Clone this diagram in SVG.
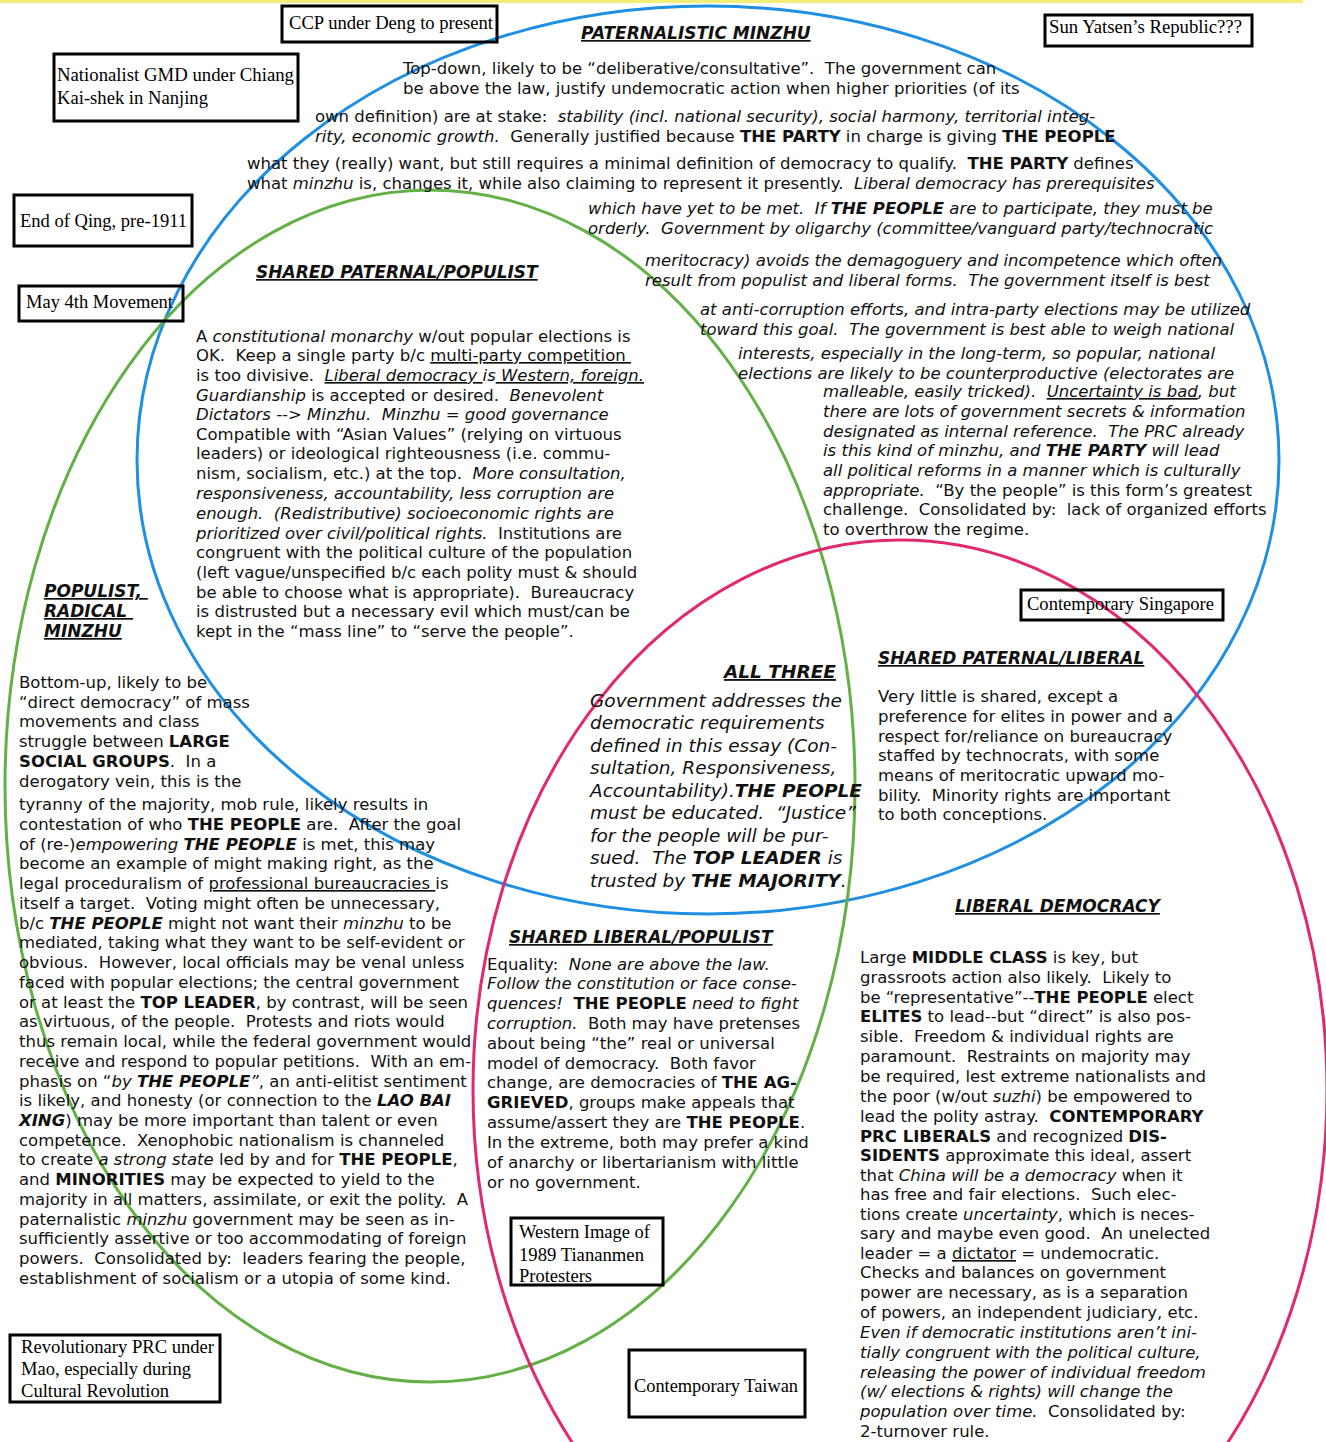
<svg xmlns="http://www.w3.org/2000/svg" width="1326" height="1442" viewBox="0 0 1326 1442">
<style>
text{font-family:"DejaVu Sans",Verdana,sans-serif;font-size:16.5px;fill:#111;white-space:pre}
.i{font-style:italic}
.b{font-weight:bold}
.u{text-decoration:underline}
.h{font-size:17px;font-weight:bold;font-style:italic;text-decoration:underline}
.a3{font-size:18.5px}
.box{fill:none;stroke:#000;stroke-width:3}
.lbl{font-family:"Liberation Serif","Times New Roman",serif;font-size:19.5px;fill:#000}
.ell{fill:none;stroke-width:3}
</style>
<rect x="0" y="0" width="1303" height="3" fill="#f2ee78"/>
<g id="circles">
<ellipse class="ell" cx="708" cy="460" rx="571" ry="454" stroke="#1e8fe3"/>
<ellipse class="ell" cx="430" cy="786" rx="425" ry="596" stroke="#62b046"/>
<ellipse class="ell" cx="900" cy="1090" rx="427" ry="550" stroke="#e0296f"/>
</g>
<g id="paternalistic">
<text class="h" x="581" y="39">PATERNALISTIC MINZHU</text>
<text x="403" y="74">Top-down, likely to be “deliberative/consultative”.  The government can</text>
<text x="403" y="94">be above the law, justify undemocratic action when higher priorities (of its</text>
<text x="315" y="122">own definition) are at stake:  <tspan class="i">stability (incl. national security), social harmony, territorial integ-</tspan></text>
<text x="315" y="142"><tspan class="i">rity, economic growth.</tspan>  Generally justified because <tspan class="b">THE PARTY</tspan> in charge is giving <tspan class="b">THE PEOPLE</tspan></text>
<text x="247" y="169">what they (really) want, but still requires a minimal definition of democracy to qualify.  <tspan class="b">THE PARTY</tspan> defines</text>
<text x="247" y="189">what <tspan class="i">minzhu</tspan> is, changes it, while also claiming to represent it presently.  <tspan class="i">Liberal democracy has prerequisites</tspan></text>
<text class="i" x="588" y="214">which have yet to be met.  If <tspan class="b">THE PEOPLE</tspan> are to participate, they must be</text>
<text class="i" x="588" y="234">orderly.  Government by oligarchy (committee/vanguard party/technocratic</text>
<text class="i" x="645" y="266">meritocracy) avoids the demagoguery and incompetence which often</text>
<text class="i" x="645" y="286">result from populist and liberal forms.  The government itself is best</text>
<text class="i" x="700" y="315">at anti-corruption efforts, and intra-party elections may be utilized</text>
<text class="i" x="700" y="335">toward this goal.  The government is best able to weigh national</text>
<text class="i" x="738" y="359">interests, especially in the long-term, so popular, national</text>
<text class="i" x="738" y="379">elections are likely to be counterproductive (electorates are</text>
<text class="i" x="823" y="397">malleable, easily tricked).  <tspan class="u">Uncertainty is bad</tspan>, but</text>
<text class="i" x="823" y="417">there are lots of government secrets &amp; information</text>
<text class="i" x="823" y="437">designated as internal reference.  The PRC already</text>
<text class="i" x="823" y="456">is this kind of minzhu, and <tspan class="b">THE PARTY</tspan> will lead</text>
<text class="i" x="823" y="476">all political reforms in a manner which is culturally</text>
<text x="823" y="496"><tspan class="i">appropriate.</tspan>  “By the people” is this form’s greatest</text>
<text x="823" y="515">challenge.  Consolidated by:  lack of organized efforts</text>
<text x="823" y="535">to overthrow the regime.</text>
</g>
<g id="shared-paternal-populist">
<text class="h" x="256" y="278">SHARED PATERNAL/POPULIST</text>
<text x="196" y="342">A <tspan class="i">constitutional monarchy</tspan> w/out popular elections is</text>
<text x="196" y="361">OK.  Keep a single party b/c <tspan class="u">multi-party competition </tspan></text>
<text x="196" y="381">is too divisive.  <tspan class="i u">Liberal democracy </tspan><tspan class="i">is</tspan><tspan class="i u"> Western, foreign.</tspan></text>
<text x="196" y="401"><tspan class="i">Guardianship</tspan> is accepted or desired.  <tspan class="i">Benevolent</tspan></text>
<text class="i" x="196" y="420">Dictators --&gt; Minzhu.  Minzhu = good governance</text>
<text x="196" y="440">Compatible with “Asian Values” (relying on virtuous</text>
<text x="196" y="459">leaders) or ideological righteousness (i.e. commu-</text>
<text x="196" y="479">nism, socialism, etc.) at the top.  <tspan class="i">More consultation,</tspan></text>
<text class="i" x="196" y="499">responsiveness, accountability, less corruption are</text>
<text class="i" x="196" y="519">enough.  (Redistributive) socioeconomic rights are</text>
<text x="196" y="539"><tspan class="i">prioritized over civil/political rights.</tspan>  Institutions are</text>
<text x="196" y="558">congruent with the political culture of the population</text>
<text x="196" y="578">(left vague/unspecified b/c each polity must &amp; should</text>
<text x="196" y="598">be able to choose what is appropriate).  Bureaucracy</text>
<text x="196" y="617">is distrusted but a necessary evil which must/can be</text>
<text x="196" y="637">kept in the “mass line” to “serve the people”.</text>
</g>
<g id="populist">
<text class="h" x="44" y="597">POPULIST, </text>
<text class="h" x="44" y="617">RADICAL </text>
<text class="h" x="44" y="637">MINZHU</text>
<text x="19" y="688">Bottom-up, likely to be</text>
<text x="19" y="708">“direct democracy” of mass</text>
<text x="19" y="727">movements and class</text>
<text x="19" y="747">struggle between <tspan class="b">LARGE</tspan></text>
<text x="19" y="767"><tspan class="b">SOCIAL GROUPS</tspan>.  In a</text>
<text x="19" y="787">derogatory vein, this is the</text>
<text x="19" y="810">tyranny of the majority, mob rule, likely results in</text>
<text x="19" y="830">contestation of who <tspan class="b">THE PEOPLE</tspan> are.  After the goal</text>
<text x="19" y="850">of (re-)<tspan class="i">empowering </tspan><tspan class="i b">THE PEOPLE</tspan> is met, this may</text>
<text x="19" y="869">become an example of might making right, as the</text>
<text x="19" y="889">legal proceduralism of <tspan class="u">professional bureaucracies </tspan>is</text>
<text x="19" y="909">itself a target.  Voting might often be unnecessary,</text>
<text x="19" y="929">b/c <tspan class="i b">THE PEOPLE</tspan> might not want their <tspan class="i">minzhu</tspan> to be</text>
<text x="19" y="948">mediated, taking what they want to be self-evident or</text>
<text x="19" y="968">obvious.  However, local officials may be venal unless</text>
<text x="19" y="988">faced with popular elections; the central government</text>
<text x="19" y="1008">or at least the <tspan class="b">TOP LEADER</tspan>, by contrast, will be seen</text>
<text x="19" y="1027">as virtuous, of the people.  Protests and riots would</text>
<text x="19" y="1047">thus remain local, while the federal government would</text>
<text x="19" y="1067">receive and respond to popular petitions.  With an em-</text>
<text x="19" y="1087">phasis on “<tspan class="i">by </tspan><tspan class="i b">THE PEOPLE</tspan><tspan class="i">”</tspan>, an anti-elitist sentiment</text>
<text x="19" y="1106">is likely, and honesty (or connection to the <tspan class="i b">LAO BAI</tspan></text>
<text x="19" y="1126"><tspan class="i b">XING</tspan>) may be more important than talent or even</text>
<text x="19" y="1146">competence.  Xenophobic nationalism is channeled</text>
<text x="19" y="1165">to create <tspan class="i">a strong state</tspan> led by and for <tspan class="b">THE PEOPLE</tspan>,</text>
<text x="19" y="1185">and <tspan class="b">MINORITIES</tspan> may be expected to yield to the</text>
<text x="19" y="1205">majority in all matters, assimilate, or exit the polity.  A</text>
<text x="19" y="1225">paternalistic <tspan class="i">minzhu</tspan> government may be seen as in-</text>
<text x="19" y="1244">sufficiently assertive or too accommodating of foreign</text>
<text x="19" y="1264">powers.  Consolidated by:  leaders fearing the people,</text>
<text x="19" y="1284">establishment of socialism or a utopia of some kind.</text>
</g>
<g id="all-three">
<text class="h a3" x="724" y="678">ALL THREE</text>
<text class="i a3" x="590" y="707">Government addresses the</text>
<text class="i a3" x="590" y="729">democratic requirements</text>
<text class="i a3" x="590" y="752">defined in this essay (Con-</text>
<text class="i a3" x="590" y="774">sultation, Responsiveness,</text>
<text class="i a3" x="590" y="797">Accountability).<tspan class="b">THE PEOPLE</tspan></text>
<text class="i a3" x="590" y="819">must be educated.  “Justice”</text>
<text class="i a3" x="590" y="842">for the people will be pur-</text>
<text class="i a3" x="590" y="864">sued.  The <tspan class="b">TOP LEADER</tspan> is</text>
<text class="i a3" x="590" y="887">trusted by <tspan class="b">THE MAJORITY</tspan>.</text>
</g>
<g id="shared-paternal-liberal">
<text class="h" x="878" y="664">SHARED PATERNAL/LIBERAL</text>
<text x="878" y="702">Very little is shared, except a</text>
<text x="878" y="722">preference for elites in power and a</text>
<text x="878" y="742">respect for/reliance on bureaucracy</text>
<text x="878" y="761">staffed by technocrats, with some</text>
<text x="878" y="781">means of meritocratic upward mo-</text>
<text x="878" y="801">bility.  Minority rights are important</text>
<text x="878" y="820">to both conceptions.</text>
</g>
<g id="shared-liberal-populist">
<text class="h" x="509" y="943">SHARED LIBERAL/POPULIST</text>
<text x="487" y="970">Equality:  <tspan class="i">None are above the law.</tspan></text>
<text class="i" x="487" y="989">Follow the constitution or face conse-</text>
<text class="i" x="487" y="1009">quences!  <tspan class="b" style="font-style:normal">THE PEOPLE</tspan> need to fight</text>
<text x="487" y="1029"><tspan class="i">corruption.</tspan>  Both may have pretenses</text>
<text x="487" y="1049">about being “the” real or universal</text>
<text x="487" y="1069">model of democracy.  Both favor</text>
<text x="487" y="1088">change, are democracies of <tspan class="b">THE AG-</tspan></text>
<text x="487" y="1108"><tspan class="b">GRIEVED</tspan>, groups make appeals that</text>
<text x="487" y="1128">assume/assert they are <tspan class="b">THE PEOPLE</tspan>.</text>
<text x="487" y="1148">In the extreme, both may prefer a kind</text>
<text x="487" y="1168">of anarchy or libertarianism with little</text>
<text x="487" y="1188">or no government.</text>
</g>
<g id="liberal-democracy">
<text class="h" x="955" y="912">LIBERAL DEMOCRACY</text>
<text x="860" y="963">Large <tspan class="b">MIDDLE CLASS</tspan> is key, but</text>
<text x="860" y="983">grassroots action also likely.  Likely to</text>
<text x="860" y="1003">be “representative”--<tspan class="b">THE PEOPLE</tspan> elect</text>
<text x="860" y="1022"><tspan class="b">ELITES</tspan> to lead--but “direct” is also pos-</text>
<text x="860" y="1042">sible.  Freedom &amp; individual rights are</text>
<text x="860" y="1062">paramount.  Restraints on majority may</text>
<text x="860" y="1082">be required, lest extreme nationalists and</text>
<text x="860" y="1102">the poor (w/out <tspan class="i">suzhi</tspan>) be empowered to</text>
<text x="860" y="1122">lead the polity astray.  <tspan class="b">CONTEMPORARY</tspan></text>
<text x="860" y="1142"><tspan class="b">PRC LIBERALS</tspan> and recognized <tspan class="b">DIS-</tspan></text>
<text x="860" y="1161"><tspan class="b">SIDENTS</tspan> approximate this ideal, assert</text>
<text x="860" y="1181">that <tspan class="i">China will be a democracy</tspan> when it</text>
<text x="860" y="1200">has free and fair elections.  Such elec-</text>
<text x="860" y="1220">tions create <tspan class="i">uncertainty</tspan>, which is neces-</text>
<text x="860" y="1239">sary and maybe even good.  An unelected</text>
<text x="860" y="1259">leader = a <tspan class="u">dictator</tspan> = undemocratic.</text>
<text x="860" y="1278">Checks and balances on government</text>
<text x="860" y="1298">power are necessary, as is a separation</text>
<text x="860" y="1318">of powers, an independent judiciary, etc.</text>
<text class="i" x="860" y="1338">Even if democratic institutions aren’t ini-</text>
<text class="i" x="860" y="1358">tially congruent with the political culture,</text>
<text class="i" x="860" y="1378">releasing the power of individual freedom</text>
<text class="i" x="860" y="1397">(w/ elections &amp; rights) will change the</text>
<text x="860" y="1417"><tspan class="i">population over time.</tspan>  Consolidated by:</text>
<text x="860" y="1437">2-turnover rule.</text>
</g>
<g id="box-ccp">
<rect class="box" x="282" y="6" width="215" height="36"/>
<text class="lbl" x="289" y="29" textLength="204" lengthAdjust="spacingAndGlyphs">CCP under Deng to present</text>
</g>
<g id="box-gmd">
<rect class="box" x="54" y="54" width="244" height="67"/>
<text class="lbl" x="57" y="81" textLength="237" lengthAdjust="spacingAndGlyphs">Nationalist GMD under Chiang</text>
<text class="lbl" x="57" y="104" textLength="151" lengthAdjust="spacingAndGlyphs">Kai-shek in Nanjing</text>
</g>
<g id="box-sun">
<rect class="box" x="1045" y="15" width="207" height="31"/>
<text class="lbl" x="1049" y="33" textLength="193" lengthAdjust="spacingAndGlyphs">Sun Yatsen’s Republic???</text>
</g>
<g id="box-qing">
<rect class="box" x="14" y="195" width="178" height="51"/>
<text class="lbl" x="20" y="227" textLength="167" lengthAdjust="spacingAndGlyphs">End of Qing, pre-1911</text>
</g>
<g id="box-may4">
<rect class="box" x="19" y="286" width="164" height="35"/>
<text class="lbl" x="26" y="308" textLength="147" lengthAdjust="spacingAndGlyphs">May 4th Movement</text>
</g>
<g id="box-singapore">
<rect class="box" x="1021" y="590" width="202" height="30"/>
<text class="lbl" x="1027" y="610" textLength="187" lengthAdjust="spacingAndGlyphs">Contemporary Singapore</text>
</g>
<g id="box-tiananmen">
<rect class="box" x="511" y="1218" width="152" height="67"/>
<text class="lbl" x="519" y="1238" textLength="131" lengthAdjust="spacingAndGlyphs">Western Image of</text>
<text class="lbl" x="519" y="1261" textLength="125" lengthAdjust="spacingAndGlyphs">1989 Tiananmen</text>
<text class="lbl" x="519" y="1282" textLength="73" lengthAdjust="spacingAndGlyphs">Protesters</text>
</g>
<g id="box-mao">
<rect class="box" x="10" y="1335" width="210" height="67"/>
<text class="lbl" x="21" y="1353" textLength="193" lengthAdjust="spacingAndGlyphs">Revolutionary PRC under</text>
<text class="lbl" x="21" y="1375" textLength="170" lengthAdjust="spacingAndGlyphs">Mao, especially during</text>
<text class="lbl" x="21" y="1397" textLength="148" lengthAdjust="spacingAndGlyphs">Cultural Revolution</text>
</g>
<g id="box-taiwan">
<rect class="box" x="629" y="1350" width="176" height="67"/>
<text class="lbl" x="634" y="1392" textLength="164" lengthAdjust="spacingAndGlyphs">Contemporary Taiwan</text>
</g>
</svg>
